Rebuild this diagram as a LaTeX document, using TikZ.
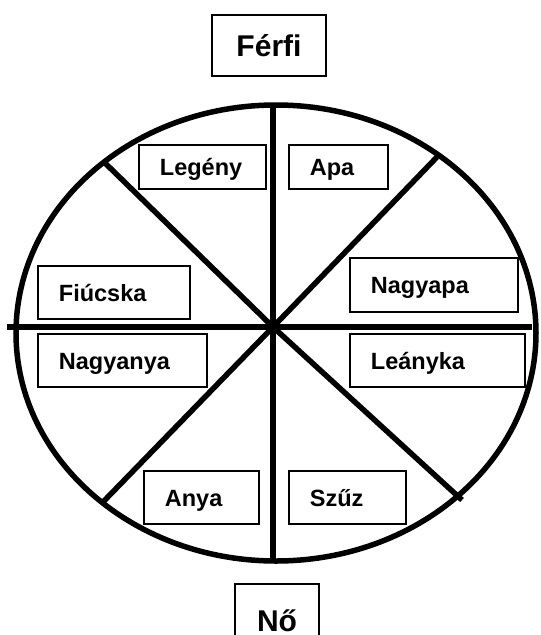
\documentclass[tikz,border=0pt]{standalone}
\usepackage{fontspec}
\setmainfont{Liberation Sans}
\begin{document}
\begin{tikzpicture}[x=1pt,y=-1pt,
  heavy/.style={line width=5.5pt},
  labelbox/.style={draw, line width=1.8pt, rectangle, anchor=west,
    inner xsep=21pt, inner ysep=0pt, align=left,
    font=\bfseries\fontsize{23.5}{28}\selectfont,
    text height=17pt, text depth=0pt},
  titlebox/.style={draw, line width=2pt, rectangle, inner sep=0pt,
    font=\bfseries\fontsize{30}{36}\selectfont,
    text height=21.5pt, text depth=0pt}]
\clip (0,0) rectangle (541,635);
\fill[white] (0,0) rectangle (541,635);

% circle and dividing lines
\coordinate (c) at (273,327);
\draw[heavy] (276,333) ellipse [x radius=260pt, y radius=228pt];
\coordinate (top) at (273,105);
\coordinate (bot) at (273,561);
\coordinate (lft) at (7,327);
\coordinate (rgt) at (532,327);
\coordinate (tl) at (105,163);
\coordinate (tr) at (437,157);
\coordinate (bl) at (103,502);
\coordinate (br) at (462,500);
\draw[heavy] (top) -- (bot);
\draw[heavy] (lft) -- (rgt);
\draw[heavy] (tl) -- (c) -- (br);
\draw[heavy] (tr) -- (c) -- (bl);

% titles
\node[titlebox, minimum width=114pt, minimum height=61pt] (ferfi) at (269,45.5) {Férfi};
\node[titlebox, minimum width=84pt, minimum height=74pt] (no) at (277,621) {Nő};

% labels
\node[labelbox, text width=85pt, minimum height=44pt] (legeny) at (138,167) {Legény};
\node[labelbox, text width=57pt, minimum height=44pt] (apa) at (288,167) {Apa};
\node[labelbox, text width=110pt, minimum height=53pt] (fiucska) at (37,292.5) {Fiúcska};
\node[labelbox, text width=127pt, minimum height=53pt] (nagyanya) at (37,360.5) {Nagyanya};
\node[labelbox, text width=126pt, minimum height=54pt] (nagyapa) at (349,285) {Nagyapa};
\node[labelbox, text width=133pt, minimum height=53pt] (leanyka) at (349,360.5) {Leányka};
\node[labelbox, text width=73pt, minimum height=53pt] (anya) at (143,497.5) {Anya};
\node[labelbox, text width=75pt, minimum height=53pt] (szuz) at (288,497.5) {Szűz};
\end{tikzpicture}
\end{document}
